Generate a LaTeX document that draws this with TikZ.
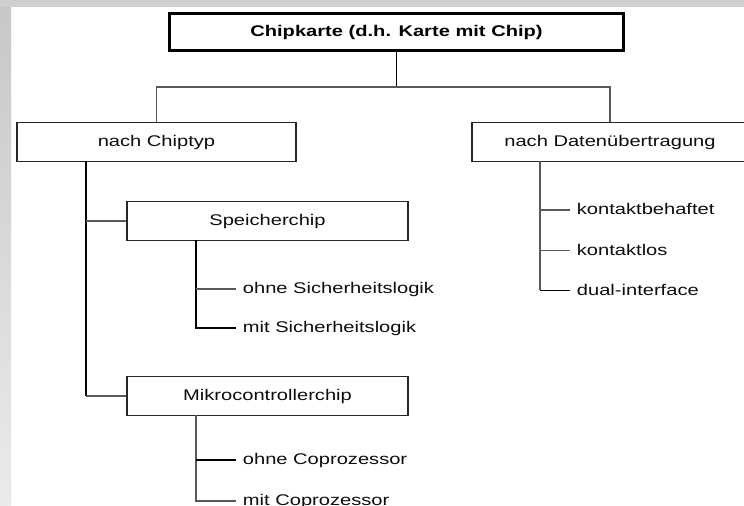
\documentclass[tikz,border=0pt]{standalone}
\usepackage{fontspec}
\setmainfont[FakeStretch=1.3]{Liberation Sans}
\begin{document}
\begin{tikzpicture}[x=0.75pt,y=-0.75pt,
  txt/.style={font=\fontsize{11.6pt}{13pt}\selectfont,text height=8.8pt,text depth=2pt,text=black!95},
  box/.style={txt,draw=black!85,line width=1.2pt,fill=white,inner sep=0pt,minimum height=29.25pt},
  leaf/.style={txt,anchor=west,inner xsep=5pt,inner ysep=0pt},
  dark/.style={draw=black,line width=1.1pt},
  grey/.style={draw=black!65,line width=0.8pt}]
\useasboundingbox (0,0) rectangle (744,506);
\clip (0,0) rectangle (744,506);
% page background with grey frame strips
\fill[white] (0,0) rectangle (744,506);
\shade[top color=black!22,bottom color=black!8] (0,0) rectangle (11,506);
\fill[black!19] (0,0) rectangle (744,7);

% boxes
\node[box,draw=black,line width=2.25pt,minimum width=340.5pt,minimum height=27.75pt,font=\fontsize{11.6pt}{13pt}\selectfont\bfseries,text=black]
  (root) at (396.5,32) {Chipkarte (d.h. Karte mit Chip)};
\node[box,minimum width=209.6pt] (chiptyp) at (156.5,142) {nach Chiptyp};
\node[box,minimum width=207.4pt] (daten) at (610,142) {nach Datenübertragung};
\node[box,minimum width=211.1pt] (speicher) at (267.5,221) {Speicherchip};
\node[box,minimum width=211.1pt] (mikro) at (267.5,396) {Mikrocontrollerchip};

% leaf labels
\node[leaf] (s1) at (236,289) {ohne Sicherheitslogik};
\node[leaf] (s2) at (236,328) {mit Sicherheitslogik};
\node[leaf] (m1) at (236,460) {ohne Coprozessor};
\node[leaf] (m2) at (236,501) {mit Coprozessor};
\node[leaf] (d1) at (570,210) {kontaktbehaftet};
\node[leaf] (d2) at (570,250.5) {kontaktlos};
\node[leaf] (d3) at (570,290.5) {dual-interface};

% junction points
\coordinate (bus) at (396.5,87);
\coordinate (ctstem) at (86,161.5);
\coordinate (spstem) at (196,240.5);
\coordinate (mkstem) at (196,415.5);
\coordinate (dtstem) at (540,161.5);

% top level
\draw[dark] (root.south) -- (bus);
\draw[grey] (chiptyp.north) |- (bus) -| (daten.north);

% nach Chiptyp
\draw[dark] (ctstem) -- (ctstem |- mikro.west);
\draw[grey] (ctstem |- speicher.west) -- (speicher.west);
\draw[grey] (ctstem |- mikro.west) -- (mikro.west);

% Speicherchip
\draw[dark] (spstem) |- (s2.west);
\draw[grey] (spstem |- s1.west) -- (s1.west);

% Mikrocontrollerchip
\draw[grey] (mkstem) |- (m2.west);
\draw[dark] (mkstem |- m1.west) -- (m1.west);

% nach Datenuebertragung
\draw[grey] (dtstem) -- (dtstem |- d3.west);
\draw[dark] (dtstem |- d3.west) -- (d3.west);
\draw[grey] (dtstem |- d1.west) -- (d1.west);
\draw[grey] (dtstem |- d2.west) -- (d2.west);
\end{tikzpicture}
\end{document}
